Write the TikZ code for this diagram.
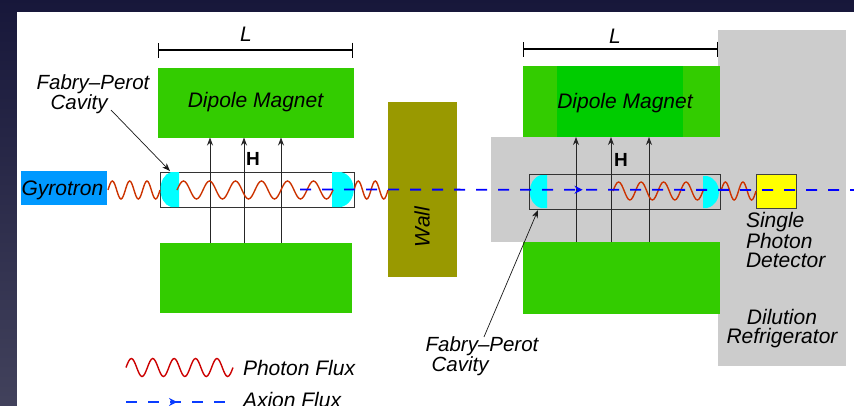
\documentclass[tikz,border=0pt]{standalone}
\usepackage{fontspec}
\setmainfont{Liberation Sans}
\usetikzlibrary{arrows.meta,decorations.markings}
\definecolor{magnetgreen}{HTML}{33CC00}
\definecolor{coregreen}{HTML}{00CC00}
\definecolor{wallolive}{HTML}{999900}
\definecolor{gyroblue}{HTML}{0099FF}
\definecolor{fridgegray}{HTML}{CCCCCC}
\definecolor{waveorange}{HTML}{CC3300}
\definecolor{waved}{HTML}{CC0000}
\definecolor{axionblue}{HTML}{0000FF}
\definecolor{keyblue}{HTML}{0A3CFF}
\definecolor{mirrorcyan}{HTML}{00FFFF}
\definecolor{detectoryellow}{HTML}{FFFF00}
\definecolor{slidetop}{HTML}{17173A}
\definecolor{slidebottom}{HTML}{42425C}
\newcommand{\photonwave}[4][waveorange]{%
  \draw[photon,#1] (#2) foreach \n in {1,...,#3}
    {sin ++(#4/4,-9) cos ++(#4/4,9) sin ++(#4/4,9) cos ++(#4/4,-9)};}
\begin{document}
\begin{tikzpicture}[
  x=1pt,y=-1pt,
  >=Stealth,
  every node/.style={font=\fontsize{21}{18.5}\selectfont\itshape,inner sep=0pt,outer sep=0pt},
  magnet/.style={fill=magnetgreen,minimum height=70pt},
  cavity/.style={draw=black!80,line width=1pt,minimum height=35pt},
  mirror/.style={fill=mirrorcyan},
  field/.style={-{Stealth[length=8pt,width=6pt]},line width=.8pt,black!85},
  photon/.style={line width=1.4pt},
  axion/.style={axionblue,line width=1.8pt,dash pattern=on 11pt off 11pt,
    postaction={decorate,decoration={markings,mark=at position #1 with {\arrow[solid]{Stealth[length=8pt,width=8pt]}}}}},
  span/.style={{|[width=15pt]}-{|[width=15pt]},line width=1.2pt},
  pointer/.style={-{Stealth[length=8pt,width=6pt]},line width=.7pt,black!90},
  fabry/.style={font=\fontsize{20.5}{18}\selectfont\itshape,align=left}
]
  \useasboundingbox (0,0) rectangle (854,405);
  \fill[top color=slidetop,bottom color=slidebottom] (-2,-2) rectangle (856,410);
  \fill[white] (17,12) rectangle (856,410);

  % refrigerator
  \fill[fridgegray] (718,30) rectangle (846,366);
  \fill[fridgegray] (491,137) rectangle (720,242);

  % left side
  \node[magnet,minimum width=196pt] (magnetTL) at (256,102.5) {};
  \node[magnet,minimum width=192pt] (magnetBL) at (256,277.5) {};
  \node (dipoleL) at (255.5,102.5) {Dipole Magnet};
  \node[fill=wallolive,minimum width=69pt,minimum height=175pt] (wall) at (422.5,189.5) {};
  \node[rotate=90] (walllabel) at (422,227) {Wall};
  \node[fill=gyroblue,minimum width=86pt,minimum height=34pt] (gyrotron) at (64,188) {};
  \node (gyrolabel) at (62.5,190) {Gyrotron};
  \node[cavity,minimum width=194pt] (cavityL) at (257,189.5) {};
  \fill[mirror] (179,172) -- (171,172) .. controls (157,176) and (157,203) .. (171,207) -- (179,207) -- cycle;
  \fill[mirror] (332,172) -- (341,172) .. controls (358,176) and (358,203) .. (341,207) -- (332,207) -- cycle;

  % right side
  \node[magnet,minimum width=197pt,minimum height=71pt] (magnetTR) at (621.5,101.5) {};
  \node[fill=coregreen,minimum width=126pt,minimum height=71pt] (coreTR) at (620,101.5) {};
  \node (dipoleR) at (625,103.5) {Dipole Magnet};
  \node[magnet,minimum width=197pt,minimum height=72pt] (magnetBR) at (621.5,278) {};
  \node[cavity,minimum width=191pt] (cavityR) at (624.5,191.5) {};
  \fill[mirror] (547,175) -- (541,175) .. controls (526,179) and (526,204) .. (541,208) -- (547,208) -- cycle;
  \fill[mirror] (703,176) -- (707,176) .. controls (723,180) and (723,204) .. (707,208) -- (703,208) -- cycle;
  \node[draw=black!75,line width=1pt,fill=detectoryellow,minimum width=40pt,minimum height=34pt] (detector) at (776,191) {};

  % field lines
  \foreach \s in {-46,-12,25}
    \draw[field] ([xshift=\s pt]magnetBL.north) -- ([xshift=\s pt]magnetTL.south);
  \foreach \s in {-45.5,-10.5,27.5}
    \draw[field] ([xshift=\s pt]magnetBR.north) -- ([xshift=\s pt]magnetTR.south);
  \node[font=\fontsize{19}{19}\selectfont\bfseries] (fieldL) at (253,159) {H};
  \node[font=\fontsize{19}{19}\selectfont\bfseries] (fieldR) at (621,160) {H};

  % photons
  \coordinate (gyroOut) at (108,190);
  \coordinate (photonA) at (177,190);
  \coordinate (photonC) at (354,190);
  \coordinate (photonE) at (613,191);
  \coordinate (photonG) at (721,191);
  \photonwave{gyroOut}{3}{17.33}
  \photonwave{photonA}{6}{26}
  \photonwave{photonC}{2}{17}
  \photonwave{photonE}{4}{22.5}
  \photonwave{photonG}{2}{17.5}

  % axions
  \coordinate (axionIn) at (300,189.5);
  \coordinate (axionOut) at (854,190);
  \draw[axion=.51] (axionIn) -- (axionOut);

  % lengths
  \coordinate (spanLa) at (158,50);
  \coordinate (spanLb) at (353,50);
  \coordinate (spanRa) at (523,49);
  \coordinate (spanRb) at (718,49);
  \draw[span] (spanLa) -- (spanLb);
  \draw[span] (spanRa) -- (spanRb);
  \node (lengthL) at (246,34) {L};
  \node (lengthR) at (615,36) {L};

  % labels
  \node[fabry] (fabryL) at (93,94.5) {Fabry–Perot\\\hspace*{14pt}Cavity};
  \coordinate (fabryLtip) at (170,171);
  \draw[pointer] (111,110) -- (fabryLtip);
  \node[fabry] (fabryR) at (482,356.5) {Fabry–Perot\\\hspace*{6pt}Cavity};
  \coordinate (fabryRtip) at (538,210);
  \draw[pointer] ([xshift=2pt]fabryR.north) -- (fabryRtip);
  \node[anchor=west,align=left] (single) at (746,240) {Single\\Photon\\Detector};
  \node[align=center] (dilution) at (782,328.5) {Dilution\\Refrigerator};

  % legend
  \coordinate (keyPa) at (126,367.5);
  \coordinate (keyAa) at (126,402);
  \coordinate (keyAb) at (228,402);
  \photonwave[waved]{keyPa}{5}{21.4}
  \draw[axion=.5,keyblue] (keyAa) -- (keyAb);
  \node[anchor=west] (keyPhoton) at (243,368) {Photon Flux};
  \node[anchor=west] (keyAxion) at (243,400) {Axion Flux};
\end{tikzpicture}
\end{document}
